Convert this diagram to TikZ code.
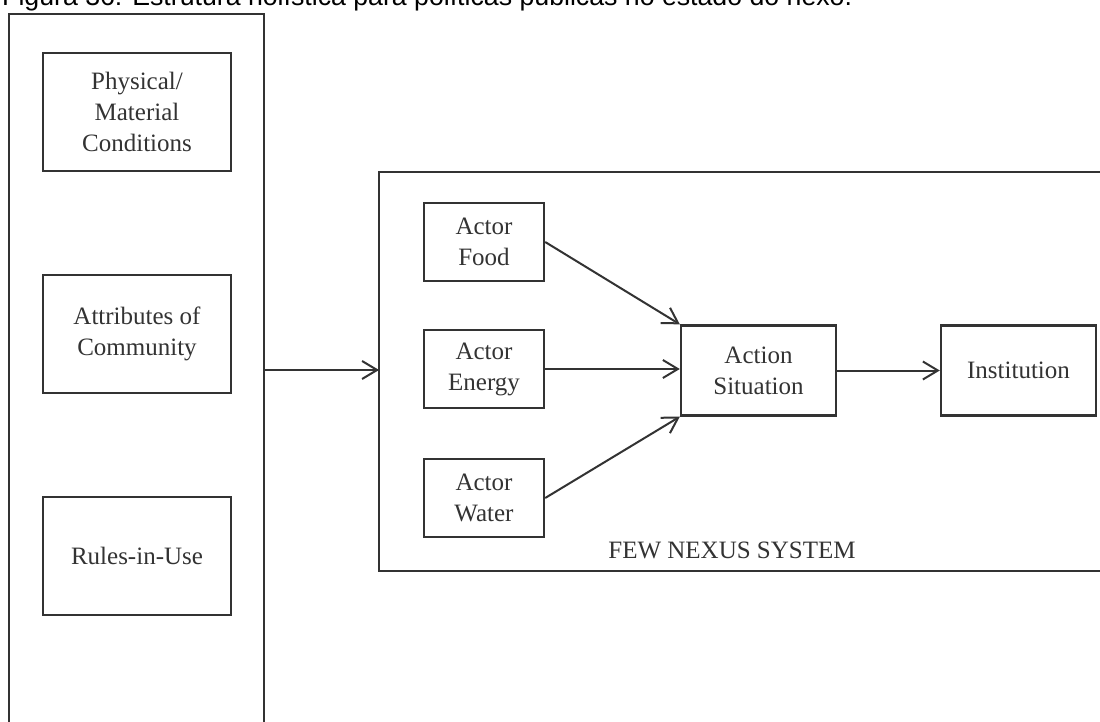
\documentclass[tikz,border=0pt]{standalone}
\usepackage{fontspec}
\setmainfont{Liberation Serif}
\newfontfamily\capfont{Liberation Sans}
\usetikzlibrary{arrows.meta}
\definecolor{ink}{HTML}{333333}
\begin{document}
\begin{tikzpicture}[x=1pt,y=-1pt,
  box/.style={draw=ink, line width=2.4pt, inner sep=0pt, align=center,
    font=\fontsize{25}{31}\selectfont, text=ink},
  frame/.style={draw=ink, line width=2.4pt},
  conn/.style={draw=ink, line width=2pt,
    -{Straight Barb[length=15pt,width=18pt,line width=2pt]}}]
\useasboundingbox (0,0) rectangle (1100,722);
\clip (0,0) rectangle (1100,722);
\fill[white] (0,0) rectangle (1100,722);
% caption (cut at the top, as in the reference)
\node[anchor=base west, inner sep=0pt, text=black,
  font=\capfont\fontsize{26.7}{30}\selectfont] (cap) at (2,6)
  {Figura 36: Estrutura holística para políticas públicas no estado do nexo.};
% left container (open at the bottom)
\draw[frame] (9,740) -- (9,14) -- (264,14) -- (264,740);
\coordinate (L) at (264,370);
% FEW container (open at the right)
\draw[frame] (1120,172) -- (379,172) -- (379,571) -- (1120,571);
\coordinate (F) at (379,370);
% left boxes
\node[box, minimum width=188pt, minimum height=118pt] (phys) at (137,112)
  {Physical/\\Material\\Conditions};
\node[box, minimum width=188pt, minimum height=118pt] (attr) at (137,334)
  {Attributes of\\Community};
\node[box, minimum width=188pt, minimum height=118pt] (rules) at (137,556)
  {Rules-in-Use};
% actors
\node[box, minimum width=120pt, minimum height=78pt] (food) at (484,242)
  {Actor\\Food};
\node[box, minimum width=120pt, minimum height=78pt] (energy) at (484,369)
  {Actor\\Energy};
\node[box, minimum width=120pt, minimum height=78pt] (water) at (484,498)
  {Actor\\Water};
\node[box, minimum width=155pt, minimum height=90pt] (action) at (758.5,370.5)
  {Action\\Situation};
\node[box, minimum width=155pt, minimum height=90pt] (inst) at (1018.5,370.5)
  {Institution};
\node[anchor=base, inner sep=0pt, text=ink, font=\fontsize{25}{31}\selectfont]
  (few) at (732,558) {FEW NEXUS SYSTEM};
% connectors
\draw[conn] (L) -- (F);
\draw[conn] (food.east) -- (action.north west);
\draw[conn] (energy.east) -- (energy.east -| action.west);
\draw[conn] (water.east) -- (action.south west);
\draw[conn] (action.east) -- (action.east -| inst.west);
\end{tikzpicture}
\end{document}
